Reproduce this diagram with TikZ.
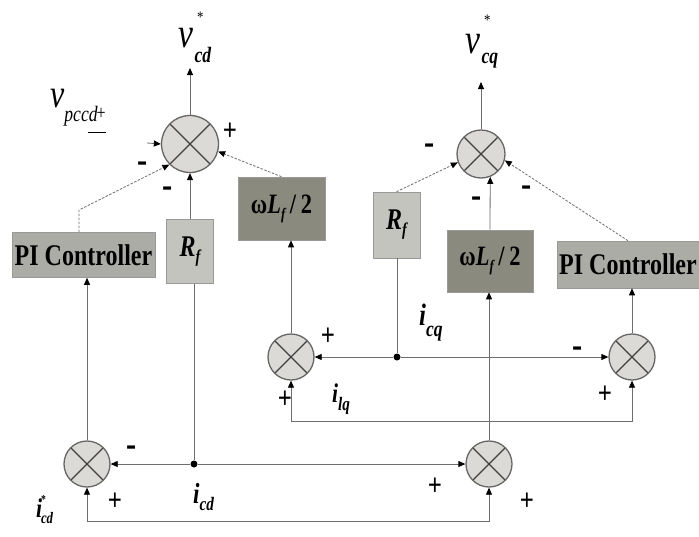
\documentclass[tikz,border=0pt]{standalone}
\usepackage{fontspec}
\setmainfont{Liberation Serif}[FakeStretch=0.8]
\usetikzlibrary{arrows.meta}
\definecolor{pig}{RGB}{172,172,166}
\definecolor{rfg}{RGB}{196,196,190}
\definecolor{wlg}{RGB}{138,138,126}
\definecolor{sumg}{RGB}{220,218,214}
\definecolor{lineg}{RGB}{110,110,110}
\newcommand{\Sf}[1]{\fontsize{#1}{#1}\selectfont}
\tikzset{
  sumnode/.style={circle, draw=black!60, line width=1.3pt, fill=sumg, minimum size=#1, inner sep=0pt,
    path picture={\draw[black!75, line width=1.3pt]
      (path picture bounding box.north west) -- (path picture bounding box.south east)
      (path picture bounding box.north east) -- (path picture bounding box.south west);}},
  blk/.style={draw=black!40, line width=0.6pt, inner sep=0pt, align=center},
  pibox/.style={blk, fill=pig, minimum width=143pt, minimum height=45pt, font=\Sf{30}\bfseries},
  rfbox/.style={blk, fill=rfg, minimum width=47pt, minimum height=64pt, font=\Sf{30}\bfseries\itshape},
  wlbox/.style={blk, fill=wlg, minimum width=87pt, minimum height=63pt, font=\Sf{28}\bfseries},
  conn/.style={draw=lineg, line width=0.8pt},
  arr/.style={conn, -{Triangle[length=7pt,width=6pt,color=black]}},
  dsh/.style={arr, dash pattern=on 2.5pt off 1.5pt},
  plussign/.style={font=\Sf{31}\bfseries, inner sep=0pt},
  minussign/.style={font=\Sf{38}\bfseries, inner sep=0pt},
  lbl/.style={inner sep=0pt, anchor=base west},
  jdot/.style={circle, fill=black, inner sep=0pt, minimum size=7pt},
}
\begin{document}
\begin{tikzpicture}[x=1pt,y=-1pt]
\fill[white] (0,0) rectangle (699,536);
\useasboundingbox (0,0) rectangle (699,536);

% blocks
\node[pibox] (PIL) at (83.5,255) {PI Controller};
\node[rfbox] (RfL) at (190,251.5) {R\raisebox{-6pt}{\Sf{18}f}};
\node[wlbox] (wLL) at (281.5,208.5) {ω\textit{L}\raisebox{-6pt}{\Sf{16}\itshape f}\,/\,2};
\node[rfbox, minimum height=66pt] (RfR) at (396.5,225) {R\raisebox{-6pt}{\Sf{18}f}};
\node[wlbox, minimum width=86pt, minimum height=62pt] (wLR) at (490,261) {ω\textit{L}\raisebox{-6pt}{\Sf{16}\itshape f}\,/\,2};
\node[pibox, minimum width=142pt, minimum height=47pt] (PIR) at (628,264.5) {PI Controller};

% summing junctions
\node[sumnode=57pt] (S1) at (190,144) {};
\node[sumnode=48pt] (S6) at (481,154) {};
\node[sumnode=46pt] (S2) at (291,357) {};
\node[sumnode=46pt] (S5) at (632,357) {};
\node[sumnode=46pt] (S3) at (87,464) {};
\node[sumnode=46pt] (S4) at (489,464) {};

% junction dots and free ends
\node[jdot] (iCD) at (194,464) {};
\node[jdot] (iCQ) at (397,357) {};
\coordinate (vcdT) at (190,68);
\coordinate (vcqT) at (481,82);
\coordinate (vpIn) at (147,143);
\coordinate (pl1) at (79,210);
\coordinate (cBot) at (87,521);
\coordinate (cL) at (291,421);

% connectors
\draw[arr] (S1.north) -- (vcdT);
\draw[arr] (vpIn) -- (S1.west);
\draw[dsh] (pl1 |- PIL.north) -- (pl1) -- (S1.225);
\draw[arr] (RfL.north) -- (S1.south);
\draw[dsh] (wLL.north) -- (S1.-15);
\draw[arr] (S3.north) -- (S3.north |- PIL.south);
\draw[conn] (iCD) -- (iCD |- RfL.south);
\draw[arr] (iCD) -- (S3.east);
\draw[arr] (iCD) -- (S4.west);
\draw[arr] (cBot) -- (S3.south);
\draw[arr] (cBot) -- (cBot -| S4) -- (S4.south);
\draw[arr] (S4.north) -- (S4.north |- wLR.south);
\draw[arr] (S2.north) -- (S2.north |- wLL.south);
\draw[conn] (iCQ) -- (iCQ |- RfR.south);
\draw[arr] (iCQ) -- (S2.east);
\draw[arr] (iCQ) -- (S5.west);
\draw[arr] (cL) -- (S2.south);
\draw[arr] (cL) -- (cL -| S5) -- (S5.south);
\draw[arr] (S5.north) -- (S5.north |- PIR.south);
\draw[arr] (S6.north) -- (vcqT);
\draw[dsh] (RfR.north) -- (S6.200);
\draw[arr] (wLR.north) -- (S6.-68);
\draw[dsh] (PIR.north) -- (S6.-15);

% signal labels
\node[lbl] (Lvcd) at (178,47) {\Sf{42}\itshape v\hspace{4pt}\raisebox{25pt}{\Sf{16}\upshape *}\hspace{-9pt}\raisebox{-15pt}{\Sf{22}\bfseries cd}};
\node[lbl] (Lvcq) at (465,53) {\Sf{42}\itshape v\hspace{4pt}\raisebox{28pt}{\Sf{16}\upshape *}\hspace{-9pt}\raisebox{-10pt}{\Sf{22}\bfseries cq}};
\node[lbl] (Lvp) at (50,107) {\Sf{40}\itshape v\raisebox{-14pt}{\Sf{22}pccd}\hspace{-1pt}\raisebox{-12pt}{\Sf{20}\upshape +}\llap{\raisebox{-26pt}{\rule{18pt}{1pt}}}};
\node[lbl] (Licd) at (193,503) {\Sf{29}\bfseries\itshape i\raisebox{-7pt}{\Sf{19}cd}};
\node[lbl] (Licq) at (419,325) {\Sf{31}\bfseries\itshape i\raisebox{-11pt}{\Sf{22}cq}};
\node[lbl] (Lilq) at (332,402) {\Sf{27}\bfseries\itshape i\raisebox{-8pt}{\Sf{19}lq}};
\node[lbl] (Lisd) at (36,517) {\Sf{27}\bfseries\itshape i\hspace{-1pt}\raisebox{14pt}{\Sf{12}\upshape *}\hspace{-5pt}\raisebox{-6pt}{\Sf{16}cd}};

% signs
\node[plussign] (p1) at (230,132) {+};
\node[plussign] (p2) at (328,337) {+};
\node[plussign] (p3) at (285,400) {+};
\node[plussign] (p4) at (605,395) {+};
\node[plussign] (p5) at (115,502) {+};
\node[plussign] (p6) at (435,487) {+};
\node[plussign] (p7) at (527,502) {+};
\node[minussign] (m1) at (143,167) {-};
\node[minussign] (m2) at (168,192) {-};
\node[minussign] (m3) at (430,149) {-};
\node[minussign] (m4) at (477,202) {-};
\node[minussign] (m5) at (527,191) {-};
\node[minussign] (m6) at (578,352) {-};
\node[minussign] (m7) at (132,451) {-};
\end{tikzpicture}
\end{document}
